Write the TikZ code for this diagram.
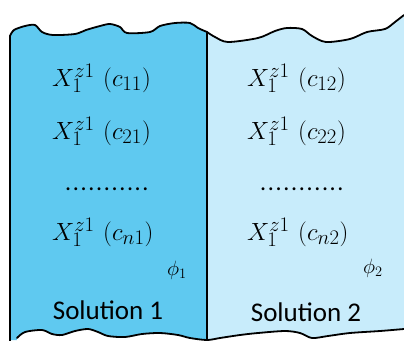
\documentclass[tikz,border=0pt]{standalone}
\usepackage{fontspec}
\newfontfamily\carlito{Carlito}
\definecolor{leftblue}{RGB}{95,201,240}
\definecolor{rightblue}{RGB}{200,236,251}
\begin{document}
\begin{tikzpicture}[x=1pt,y=-1pt,
  mathtxt/.style={anchor=west,inner sep=0pt,font=\fontsize{28}{32}\selectfont},
  dotstxt/.style={anchor=base west,inner sep=0pt,font=\carlito\fontsize{24}{28}\selectfont},
  phitxt/.style={inner sep=0pt,font=\fontsize{20}{24}\selectfont},
  soltxt/.style={inner sep=0pt,font=\carlito\fontsize{27}{32}\selectfont},
  edge/.style={line width=1.8pt,line join=round,line cap=round}]
\useasboundingbox (0,0) rectangle (404,340);
\def\topleft{(10,36) (14,30) (25,26) (35,25) (42,32) (53,35) (75,34) (86,30) (100,26) (110,24) (120,27) (127,33) (150,32) (160,26) (175,23) (190,23) (198,28) (207,32)}
\def\topright{(207,32) (215,37) (228,42) (258,38) (275,31) (287,28) (302,29) (312,36) (326,42) (350,39) (367,32) (385,29) (395,22) (404,15)}
\def\bottomline{(17,338) (25,332) (42,330) (52,334) (62,335) (75,331) (88,329) (98,332) (108,336) (125,337) (142,334) (160,333) (178,335) (190,338) (207,340) (220,338) (240,335) (258,333) (285,331) (300,333) (312,338) (328,336) (350,333) (380,331) (404,329)}
% fills
\fill[leftblue] (10,340) -- plot[smooth,tension=0.5] coordinates {\topleft} -- (207,340) -- cycle;
\fill[rightblue] plot[smooth,tension=0.5] coordinates {\topright} -- (404,340) -- (207,340) -- cycle;
\fill[white] plot[smooth,tension=0.5] coordinates {\bottomline} -- (404,345) -- (17,345) -- cycle;
% outlines
\draw[edge] plot[smooth,tension=0.5] coordinates {\topleft};
\draw[edge] plot[smooth,tension=0.5] coordinates {\topright};
\draw[edge] plot[smooth,tension=0.5] coordinates {\bottomline};
\draw[edge] (10,36) -- (10,342);
\draw[edge] (207,32) -- (207,342);
% texts left
\node[mathtxt] (l1) at (52,78) {$X_1^{z1}\ (c_{11})$};
\node[mathtxt] (l2) at (52,131) {$X_1^{z1}\ (c_{21})$};
\node[dotstxt] (l3) at (65,190) {\addfontfeature{LetterSpace=7}...........};
\node[mathtxt] (l4) at (52,232) {$X_1^{z1}\ (c_{n1})$};
\node[phitxt] (p1) at (177,270) {$\phi_1$};
\node[soltxt] (s1) at (108,310) {Solution 1};
% texts right
\node[mathtxt] (r1) at (247,78) {$X_1^{z1}\ (c_{12})$};
\node[mathtxt] (r2) at (247,131) {$X_1^{z1}\ (c_{22})$};
\node[dotstxt] (r3) at (260,190) {\addfontfeature{LetterSpace=7}...........};
\node[mathtxt] (r4) at (247,232) {$X_1^{z1}\ (c_{n2})$};
\node[phitxt] (p2) at (373,268) {$\phi_2$};
\node[soltxt] (s2) at (306,312) {Solution 2};
\end{tikzpicture}
\end{document}
